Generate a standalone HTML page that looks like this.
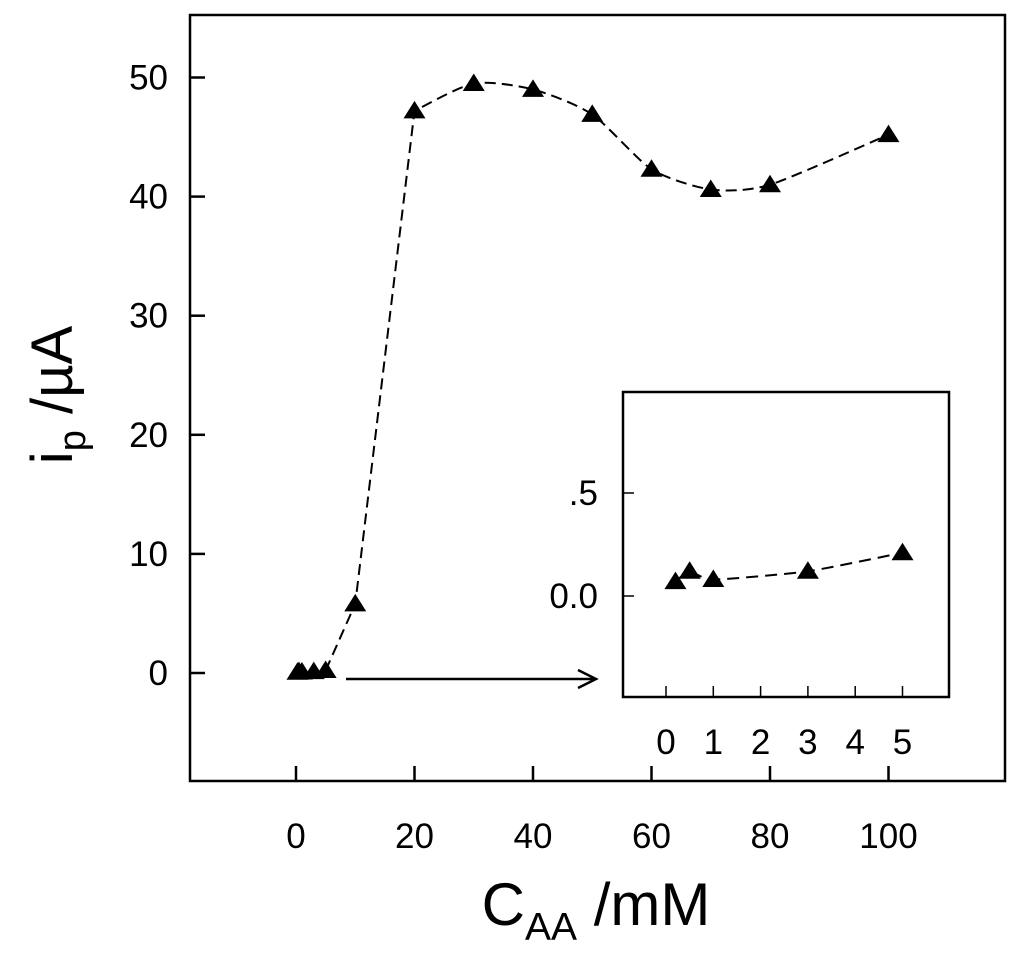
<!DOCTYPE html>
<html><head><meta charset="utf-8"><style>
body{margin:0;background:#fff;}
svg{display:block;font-family:"Liberation Sans",Arial,sans-serif;}
</style></head><body>
<svg id="c" width="1024" height="959"></svg>
<script>
const mainX=[0.25,0.5,1,3,5,10,20,30,40,50,60,70,80,100];
const mainY=[0.06,0.12,0.08,0.12,0.21,5.8,47.2,49.5,49.0,46.9,42.3,40.6,41.0,45.2];
const mainXTicks=[0,20,40,60,80,100];
const mainYTicks=[0,10,20,30,40,50];
const insetX=[0.2,0.5,1,3,5];
const insetY=[0.07,0.12,0.08,0.12,0.21];
const insetXTicks=[0,1,2,3,4,5];
const insetYTicks=[0,0.5];
const insetYLabels=["0.0",".5"];

const NS="http://www.w3.org/2000/svg";
const svg=document.getElementById('c');
function mk(t,a,p){const e=document.createElementNS(NS,t);for(const k in a)e.setAttribute(k,a[k]);(p||svg).appendChild(e);return e;}
const mx=v=>296+v*5.925, my=v=>673-v*11.91;
const ix=v=>666+v*47.3, iy=v=>596-v*206;

function smooth(pts,t){let d=`M${pts[0][0]},${pts[0][1]}`;
 for(let i=0;i<pts.length-1;i++){const p0=pts[i-1]||pts[i],p1=pts[i],p2=pts[i+1],p3=pts[i+2]||p2;
  d+=` C${p1[0]+(p2[0]-p0[0])*t},${p1[1]+(p2[1]-p0[1])*t} ${p2[0]-(p3[0]-p1[0])*t},${p2[1]-(p3[1]-p1[1])*t} ${p2[0]},${p2[1]}`;}
 return d;}
function tri(x,y,name){const s=10;const e=mk('path',{d:`M${x},${y-s} L${x+s*1.1},${y+s*0.75} L${x-s*1.1},${y+s*0.75}Z`,fill:'#000'});
 
 }
const FS=35;

let f=mk('rect',{x:190,y:15,width:815,height:766,fill:'none',stroke:'#000','stroke-width':2.5});


mainXTicks.forEach(v=>{mk('line',{x1:mx(v),x2:mx(v),y1:781,y2:766,stroke:'#000','stroke-width':2.5});
 const t=mk('text',{x:mx(v),y:848,'font-size':FS,'text-anchor':'middle'});t.textContent=v;
 
 });
mainYTicks.forEach(v=>{mk('line',{x1:190,x2:205,y1:my(v),y2:my(v),stroke:'#000','stroke-width':2.5});
 const t=mk('text',{x:168,y:my(v)+12,'font-size':FS,'text-anchor':'end'});t.textContent=v;
 
 });
const mp=mainX.map((v,i)=>[mx(v),my(mainY[i])]);
let d=`M${mp[4][0]},${mp[4][1]} L${mp[5][0]},${mp[5][1]} L${mp[6][0]},${mp[6][1]} `+smooth(mp.slice(6),0.12).replace(/^M[^C]*/,'');
let ln=mk('path',{d:d,fill:'none',stroke:'#000','stroke-width':2,'stroke-dasharray':'11,6'});


mp.forEach(p=>tri(p[0],p[1],'main-data-point'));

let ar=mk('path',{d:'M346,679 L596,679 M578,670 L596,679 L578,688',fill:'none',stroke:'#000','stroke-width':2.5});



let fi=mk('rect',{x:623,y:392,width:326,height:305,fill:'#fff',stroke:'#000','stroke-width':2.5});


insetXTicks.forEach(v=>{mk('line',{x1:ix(v),x2:ix(v),y1:697,y2:686,stroke:'#000','stroke-width':1.5});
 const t=mk('text',{x:ix(v),y:754,'font-size':FS,'text-anchor':'middle'});t.textContent=v;
 
 });
insetYTicks.forEach((v,i)=>{mk('line',{x1:623,x2:634,y1:iy(v),y2:iy(v),stroke:'#000','stroke-width':1.5});
 const t=mk('text',{x:598,y:iy(v)+12,'font-size':FS,'text-anchor':'end'});t.textContent=insetYLabels[i];
 
 });
const ip=insetX.map((v,i)=>[ix(v),iy(insetY[i])]);
let li=mk('path',{d:smooth(ip,0.1),fill:'none',stroke:'#000','stroke-width':2,'stroke-dasharray':'12,7'});


ip.forEach(p=>tri(p[0],p[1],'inset-data-point'));

let yt=mk('text',{x:0,y:0,'font-size':58,transform:'translate(72,395) rotate(-90)','text-anchor':'middle'});
yt.innerHTML='i<tspan font-size="38" dy="13">p</tspan><tspan dy="-13"> /µA</tspan>';


let xt=mk('text',{x:596,y:925,'font-size':60,'text-anchor':'middle'});
xt.innerHTML='C<tspan font-size="39" dy="15">AA</tspan><tspan dy="-15"> /mM</tspan>';


</script>
</body></html>
